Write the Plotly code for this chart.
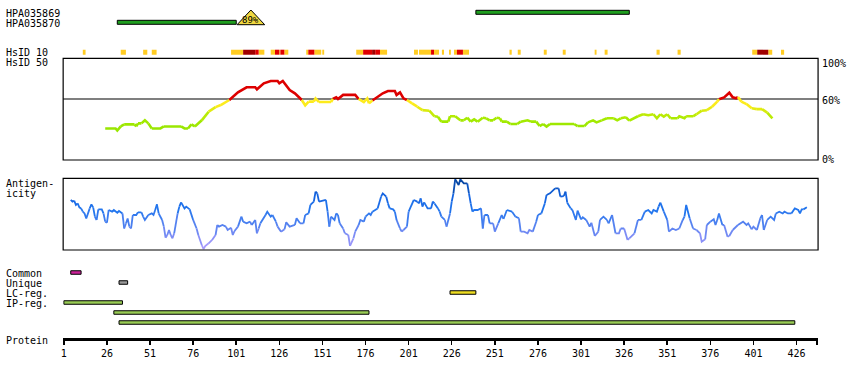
import plotly.graph_objects as go

# ---------------- data ----------------
protein_length = 438
tick_residues = [1, 26, 51, 76, 101, 126, 151, 176, 201, 226, 251, 276, 301, 326, 351, 376, 401, 426]

# antibodies (antigen sequences)
ab_names = ["HPA035869", "HPA035870"]
ab_start = [240, 32]
ab_end = [329, 101]
ab_identity_label = ["", "89%"]
ab_identity_pos = [None, 109.5]

# HsID 10 identity windows: start, end, level (1=moderate, 2=high, 3=very high)
hs10_start = [12, 34, 47, 52, 98, 105, 112, 114, 121, 123.5, 126, 126.6, 128.9, 141.6, 142.8, 146.3,
              150.9, 170.6, 174.6, 179.8, 181.6, 184.4, 204.1, 207, 214, 215.7, 220.3, 224.4, 227.3,
              229, 232.5, 259.5, 264.3, 279.4, 290.4, 308.9, 314.7, 344.8, 357, 400.3, 403.2, 409.6, 417]
hs10_end = [13.6, 37, 49.4, 54.8, 105, 112, 114, 117.3, 123.5, 126, 126.6, 128.9, 131.2, 142.8, 146.3, 150.3,
            152, 174.6, 179.8, 181.6, 184.4, 188.5, 206.4, 214, 215.7, 218.6, 221.5, 225.5, 229,
            232.5, 236, 260.8, 266, 281.1, 292.1, 310, 316.4, 346.6, 358.8, 403.2, 409.6, 411.9, 418.8]
hs10_level = [1, 1, 1, 1, 1, 3, 2, 1, 1, 2, 1, 2, 1, 1, 2, 1,
              1, 1, 2, 3, 2, 1, 1, 1, 2, 1, 1, 1, 1,
              2, 1, 1, 1, 1, 1, 1, 1, 1, 1, 1, 3, 1, 1]

# HsID 50 identity (%)
hs50_res = [25, 31, 32, 34, 36, 42, 43, 44, 46, 48,
            50, 52, 57, 59, 69, 71, 73, 75, 77, 81,
            85, 89, 92, 97, 102, 107, 112, 113, 117, 121,
            125, 126, 128, 132, 135, 138, 139, 141, 143, 146,
            147, 149, 156, 157, 159, 160, 163, 170, 172, 175,
            177, 178, 180, 183, 186, 189, 193, 194, 196, 198,
            200, 203, 206, 209, 213, 216, 218, 220, 224, 225,
            228, 231, 233, 235, 237, 239, 241, 244, 246, 248,
            250, 252, 254, 255, 258, 260, 264, 266, 270, 272,
            275, 277, 279, 281, 283, 297, 299, 303, 305, 308,
            310, 313, 316, 320, 322, 324, 327, 329, 334, 337,
            340, 343, 345, 347, 349, 351, 353, 357, 358, 361,
            362, 366, 368, 371, 374, 377, 380, 381, 384, 387,
            389, 391, 392, 394, 397, 400, 403, 406, 409, 412]
hs50_val = [31, 31, 29, 33, 35, 35, 33, 36, 36, 39,
            36, 31, 31, 33, 33, 31, 31, 35, 33, 39,
            47.5, 52, 54, 59, 66.5, 71.5, 71.5, 69.5, 75.4, 77.7,
            77.7, 75.4, 77.7, 68.8, 65.6, 60.7, 59, 53.8, 57.4, 57.4,
            60.5, 57, 57, 60, 61.6, 60, 64, 64, 60, 57,
            60.5, 55.7, 58.5, 62, 65.6, 67.8, 67.8, 64, 66.5, 60.6,
            59, 55.7, 52.4, 49, 48.5, 43, 42.6, 37.7, 37.7, 43,
            43, 39, 39, 41.6, 37.7, 40, 37.7, 41.6, 41, 39,
            39, 41.6, 41, 37.7, 37.7, 35.4, 35.4, 37.7, 39, 37.7,
            37.7, 33.4, 35.4, 32.8, 35.4, 35.4, 33.4, 33.4, 37, 39,
            37, 39, 41, 41, 39, 41, 42, 38.7, 43, 45,
            44, 45, 41, 45, 42.6, 45, 41, 41, 43, 41,
            43, 43, 45, 48.5, 49, 52.4, 57.4, 59.7, 61.6, 66.2,
            61.6, 60.6, 62, 57.4, 55, 50.8, 50, 50, 46.6, 41]

# antigenicity (relative score, 0-100)
antigen_res = [5, 6, 7, 8, 9, 10, 11, 12, 13, 14,
               16, 17, 18, 19, 20, 21, 23, 24, 25, 26,
               27, 29, 30, 32, 33, 35, 36, 37, 38, 39,
               40, 41, 43, 44, 46, 47, 48, 50, 52, 53,
               54, 55, 56, 58, 59, 60, 61, 62, 63, 64,
               65, 67, 68, 69, 71, 72, 74, 76, 78, 79,
               81, 82, 83, 85, 87, 89, 90, 91, 93, 95,
               96, 98, 99, 100, 102, 104, 105, 107, 109, 110,
               112, 113, 114, 115, 118, 119, 121, 122, 124, 125,
               127, 129, 130, 132, 135, 136, 138, 140, 141, 143,
               144, 146, 147, 148, 149, 151, 153, 154, 155, 156,
               158, 159, 160, 161, 163, 164, 166, 167, 169, 170,
               172, 173, 175, 176, 178, 179, 180, 182, 183, 185,
               186, 188, 189, 190, 192, 193, 194, 196, 197, 198,
               200, 201, 204, 206, 207, 208, 209, 210, 212, 214,
               215, 216, 218, 219, 220, 222, 223, 225, 226, 227,
               228, 230, 231, 233, 235, 236, 237, 238, 239, 241,
               243, 244, 245, 247, 248, 250, 251, 253, 255, 256,
               258, 261, 263, 265, 266, 268, 270, 271, 273, 275,
               276, 278, 280, 281, 283, 286, 288,
               289, 291, 292, 293, 295, 296, 298, 299, 301, 302,
               304, 306, 307, 309, 311, 312, 314, 316, 317, 319,
               321, 323, 324, 326, 328, 329, 332, 334, 336, 338,
               340, 342, 343, 345, 346, 347, 349, 351, 352, 354,
               356, 358, 360, 361, 362, 364, 366, 368, 370, 371,
               373, 374, 376, 378, 379, 380, 381, 383, 384, 386,
               387, 389, 390, 392, 395, 397, 398, 400, 401, 403,
               405, 406, 407, 409, 411, 413, 414, 416, 418, 419,
               421, 423, 425, 427, 428, 429, 430, 432]
antigen_val = [69.8, 67.4, 68.8, 62.8, 65, 59.5, 58, 53.5, 51, 44,
               58, 63.7, 59.5, 46.5, 41.9, 56.7, 56.7, 51, 39.5, 38,
               55.8, 53.5, 55.8, 52, 54.4, 51, 30, 37, 44, 32.6,
               30, 48.8, 48.8, 52.6, 52.6, 46.5, 41.9, 48.8, 51, 48.8,
               55.8, 63.7, 51, 41.9, 32.6, 17.2, 20.9, 27.9, 20.9, 16.3,
               23.3, 51, 60.5, 66.5, 58, 60.5, 56.7, 41.9, 30, 20.9,
               7, 1.4, 5.6, 9.3, 14, 20.9, 34.9, 32.6, 34.9, 32.6,
               27.9, 31, 20.9, 26.5, 32.6, 46.5, 39.5, 37.2, 39.5, 34.9,
               41.9, 23.3, 30, 37.2, 48.8, 53.5, 46.5, 48.8, 39.5, 32.6,
               25.6, 28.8, 38.6, 32.6, 34.9, 44.2, 37.2, 37.2, 48.8, 51,
               62.8, 67.4, 81.4, 79, 67.4, 68.8, 69.8, 53.5, 32.6, 46.5,
               41.9, 51, 48.8, 37.2, 30, 23.3, 20.9, 5.6, 16.3, 25.6,
               34.9, 41.9, 39.5, 46.5, 51, 48.8, 53.5, 55.8, 58, 74.4,
               79, 74.4, 65, 58, 56.7, 53.5, 41.9, 30, 25.6, 27.9,
               32.6, 53.5, 69.8, 67.4, 65, 72, 60.5, 66.5, 58, 58,
               67.4, 65, 58, 53.5, 46.5, 41.9, 32.6, 51, 67.4, 79,
               98.6, 90.7, 98.6, 93, 93, 79, 65, 53.5, 55.8, 55.8,
               58, 30, 48.8, 48.8, 37.2, 37.2, 25.6, 37.2, 48.8, 43.3,
               55.8, 53.5, 46.5, 44.2, 25.6, 25.6, 23.3, 27.9, 25.6, 39.5,
               48.8, 51, 65, 76.7, 79, 86, 86,
               74.4, 75.3, 81.4, 66, 58, 55.8, 41.9, 54.9, 42.8, 45.6,
               41.9, 32.6, 38, 19.5, 25.6, 41.9, 46.5, 41.9, 37.2, 48.8,
               23.3, 23.3, 30, 30, 14, 16.3, 23.3, 41.9, 41.9, 53.5,
               55.8, 51, 55.8, 53.5, 60.5, 66, 53.5, 41.9, 25.6, 30,
               27.9, 30, 41.9, 46.5, 62.8, 44.2, 30, 27.9, 23.3, 11.6,
               14.9, 34.9, 39.5, 42.8, 34.9, 41.9, 51, 34.9, 34.9, 18.6,
               19.5, 27.9, 30, 34.9, 39.5, 34.9, 37.2, 28.8, 32.6, 27.9,
               44.2, 48.8, 27.9, 41.9, 46.5, 41.9, 51, 53.5, 51, 53.5,
               51, 51, 58, 55.8, 51, 56.7, 56.7, 59.5]

# region tracks
common_start, common_end = [5], [11]
unique_start, unique_end = [33], [38]
lc_start, lc_end = [225], [240]
ip_start = [1, 30, 33]
ip_end = [35, 178, 425]

# ---------------- styling / layout constants ----------------
W, H = 850, 380
FONT = "DejaVu Sans Mono"
X_LEFT, X_RIGHT = 61.3, 818.0
X_RANGE = [0.6, 438.5]

def paper_y(px):
    return (H - px) / H

fig = go.Figure()
annotations = []

def hbar(starts, ends, row, thick, color, border=True):
    fig.add_trace(go.Bar(
        orientation="h", base=starts, x=[e - s for s, e in zip(starts, ends)],
        y=[row] * len(starts), width=thick,
        marker=dict(color=color, line=dict(color="black", width=1 if border else 0)),
        xaxis="x", yaxis="y3", hoverinfo="skip", showlegend=False))

# antibody bars
ab_rows = [12.3, 22.3]
for i in range(len(ab_names)):
    hbar([ab_start[i]], [ab_end[i]], ab_rows[i], 4, "#1f9e1f")
    if ab_identity_pos[i] is not None:
        c = ab_identity_pos[i]
        hw = 8.0
        fig.add_trace(go.Scatter(
            x=[c - hw, c, c + hw, c - hw],
            y=[ab_rows[i] + 2.4, ab_rows[i] - 12.3, ab_rows[i] + 2.4, ab_rows[i] + 2.4],
            mode="lines", fill="toself", fillcolor="#f0d840", line=dict(color="black", width=1),
            xaxis="x", yaxis="y3", hoverinfo="skip", showlegend=False))
        annotations.append(dict(x=c, y=ab_rows[i] - 2.5, xref="x", yref="y3",
                                text=ab_identity_label[i], showarrow=False,
                                font=dict(family=FONT, size=9, color="black")))

# HsID 10 blocks
level_colors = {1: "#ffcc22", 2: "#e00000", 3: "#a00000"}
for lvl, col in level_colors.items():
    s = [a for a, l in zip(hs10_start, hs10_level) if l == lvl]
    e = [b for b, l in zip(hs10_end, hs10_level) if l == lvl]
    hbar(s, e, 52.2, 5, col, border=False)

# region tracks
hbar(common_start, common_end, 272.5, 3.5, "#cc2299")
hbar(unique_start, unique_end, 282.5, 3.5, "#999999")
hbar(lc_start, lc_end, 292.5, 3.5, "#eedd22")
for k, (s, e) in enumerate(zip(ip_start, ip_end)):
    hbar([s], [e], 302.5 + 10 * k, 3.5, "#99cc55")


def interp(v, stops):
    if v <= stops[0][0]:
        return stops[0][1]
    for (v0, c0), (v1, c1) in zip(stops[:-1], stops[1:]):
        if v <= v1:
            t = (v - v0) / (v1 - v0)
            return tuple(round(a + (b - a) * t) for a, b in zip(c0, c1))
    return stops[-1][1]


def hs50_color(v):
    if v >= 59.8:
        return "rgb(221,0,0)"
    c = interp(v, [(32, (153, 230, 0)), (40, (165, 235, 0)), (47, (205, 235, 10)),
                   (53, (250, 235, 25)), (60, (255, 235, 30))])
    return "rgb(%d,%d,%d)" % c


def antigen_color(v):
    q = round(v / 5) * 5
    c = interp(q, [(0, (180, 160, 255)), (20, (125, 140, 245)), (35, (85, 130, 240)),
                   (55, (35, 118, 238)), (75, (20, 100, 225)), (100, (5, 65, 150))])
    return "rgb(%d,%d,%d)" % c


def colored_line(xs, ys, color_fn, width, yaxis):
    runs = []
    for i in range(len(xs) - 1):
        c = color_fn((ys[i] + ys[i + 1]) / 2)
        if runs and runs[-1][0] == c:
            runs[-1][1].append(xs[i + 1])
            runs[-1][2].append(ys[i + 1])
        else:
            runs.append((c, [xs[i], xs[i + 1]], [ys[i], ys[i + 1]]))
    groups = {}
    for c, rx, ry in runs:
        g = groups.setdefault(c, ([], []))
        if g[0]:
            g[0].append(None)
            g[1].append(None)
        g[0].extend(rx)
        g[1].extend(ry)
    for c, (gx, gy) in groups.items():
        fig.add_trace(go.Scatter(x=gx, y=gy, mode="lines", line=dict(color=c, width=width),
                                 xaxis="x", yaxis=yaxis, hoverinfo="skip", showlegend=False,
                                 connectgaps=False))


colored_line(hs50_res, hs50_val, hs50_color, 2.6, "y")
colored_line(antigen_res, antigen_val, antigen_color, 1.8, "y2")

# frames & reference line
shapes = [
    dict(type="rect", xref="x domain", yref="y domain", x0=0, x1=1, y0=0, y1=1,
         line=dict(color="black", width=1.2), layer="above"),
    dict(type="line", xref="x domain", yref="y", x0=0, x1=1, y0=60, y1=60,
         line=dict(color="black", width=1.2), layer="below"),
    dict(type="rect", xref="x domain", yref="y2 domain", x0=0, x1=1, y0=0, y1=1,
         line=dict(color="black", width=1.2), layer="above"),
]

def label(text, ypx, x=2):
    annotations.append(dict(x=x / W, xref="paper", xanchor="left", y=ypx, yref="y3",
                            yanchor="middle", text=text, showarrow=False,
                            font=dict(family=FONT, size=10, color="black")))

label("HPA035869", 13)
label("HPA035870", 23)
label("HsID 10", 52)
label("HsID 50", 62.5)
label("Antigen-", 183)
label("icity", 193)
label("Common", 273)
label("Unique", 283)
label("LC-reg.", 293)
label("IP-reg.", 303)
label("Protein", 340)
label("100%", 63, x=820)
label("60%", 100.5, x=820)
label("0%", 159.5, x=820)

fig.update_layout(
    width=W, height=H, margin=dict(l=0, r=0, t=0, b=0),
    paper_bgcolor="white", plot_bgcolor="rgba(0,0,0,0)",
    barmode="overlay", showlegend=False,
    shapes=shapes, annotations=annotations,
    xaxis=dict(domain=[X_LEFT / W, X_RIGHT / W], range=X_RANGE, anchor="free",
               position=paper_y(339.3), showline=True, linewidth=3, linecolor="black",
               ticks="outside", ticklen=4, tickwidth=1.5, tickcolor="black",
               tickvals=tick_residues + [protein_length],
               ticktext=[str(t) for t in tick_residues] + [""],
               tickfont=dict(family=FONT, size=10, color="black"),
               showgrid=False, zeroline=False, fixedrange=True),
    yaxis=dict(domain=[paper_y(160), paper_y(58.3)], range=[0, 100], visible=False,
               anchor="x", fixedrange=True),
    yaxis2=dict(domain=[paper_y(250), paper_y(178.3)], range=[0, 100], visible=False,
                anchor="x", fixedrange=True),
    yaxis3=dict(domain=[0, 1], range=[H, 0], visible=False, anchor="x", fixedrange=True),
)

fig.write_html("out.html", config={"displayModeBar": False, "staticPlot": True},
               post_script="document.body.style.margin='0';document.body.style.overflow='hidden';")
